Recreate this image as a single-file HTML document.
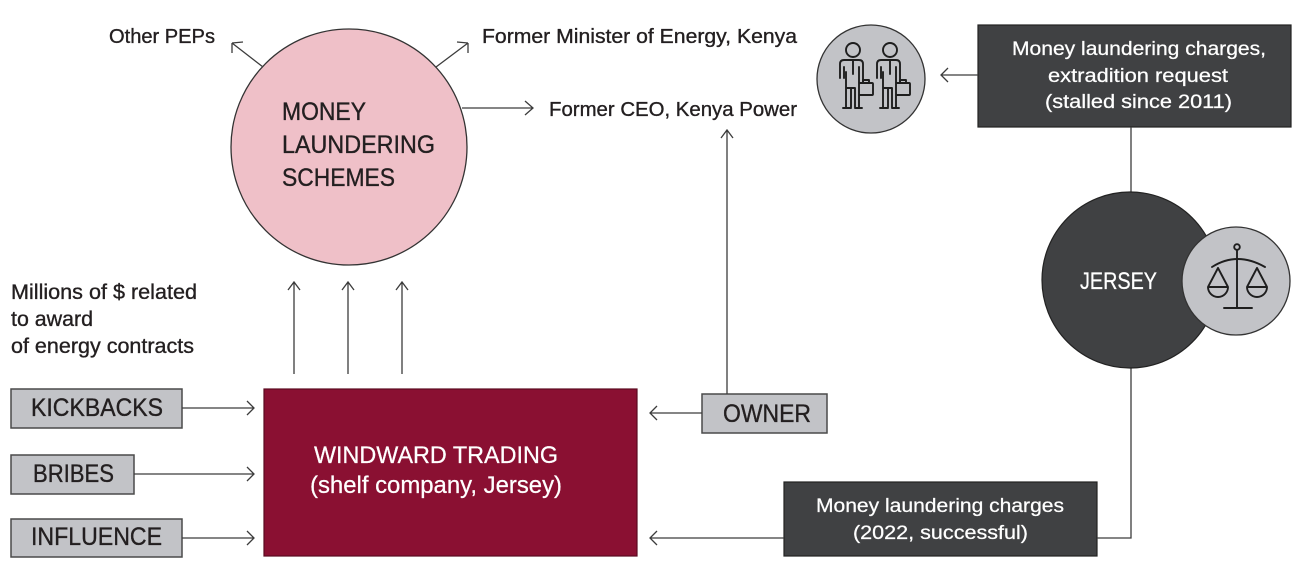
<!DOCTYPE html>
<html><head><meta charset="utf-8"><style>
html,body{margin:0;padding:0;background:#fff;}
svg{display:block;}
text{font-family:"Liberation Sans",Arial,sans-serif;}
.d{fill:#231f20;stroke:#231f20;stroke-width:0.35;}
.w{fill:#ffffff;stroke:#ffffff;stroke-width:0.25;}
.ln{stroke:#3c3c3c;stroke-width:1.3;fill:none;}
.ic{stroke:#1e1e1e;stroke-width:1.9;fill:none;stroke-linejoin:round;stroke-linecap:round;}
</style></head><body>
<svg width="1308" height="568" viewBox="0 0 1308 568" xmlns="http://www.w3.org/2000/svg">
<rect width="1308" height="568" fill="#fff"/>

<!-- Pink circle -->
<circle cx="349" cy="147" r="118" fill="#efc0c8" stroke="#333" stroke-width="1.3"/>
<text class="d" x="282" y="120" font-size="25" textLength="84" lengthAdjust="spacingAndGlyphs">MONEY</text>
<text class="d" x="282" y="153" font-size="25" textLength="153" lengthAdjust="spacingAndGlyphs">LAUNDERING</text>
<text class="d" x="282" y="186" font-size="25" textLength="113" lengthAdjust="spacingAndGlyphs">SCHEMES</text>

<!-- top labels -->
<text class="d" x="109" y="43" font-size="20" textLength="106" lengthAdjust="spacingAndGlyphs">Other PEPs</text>
<text class="d" x="482" y="43" font-size="20" textLength="315" lengthAdjust="spacingAndGlyphs">Former Minister of Energy, Kenya</text>
<text class="d" x="549" y="116" font-size="20" textLength="248" lengthAdjust="spacingAndGlyphs">Former CEO, Kenya Power</text>

<!-- diagonal arrows -->
<path class="ln" d="M263,67 L232,43 M232,43 L243,42 M232,43 L232,53"/>
<path class="ln" d="M436,67 L468,43 M468,43 L457,42 M468,43 L468,53"/>
<path class="ln" d="M462,108 L533,108 M525,101 L533,108 L525,115"/>

<!-- Millions text -->
<text class="d" x="11" y="299" font-size="21" textLength="186" lengthAdjust="spacingAndGlyphs">Millions of $ related</text>
<text class="d" x="11" y="326" font-size="21" textLength="82" lengthAdjust="spacingAndGlyphs">to award</text>
<text class="d" x="11" y="353" font-size="21" textLength="183" lengthAdjust="spacingAndGlyphs">of energy contracts</text>

<!-- up arrows -->
<path class="ln" d="M294,374 V282 M288,290 L294,282 L300,290"/>
<path class="ln" d="M348,374 V282 M342,290 L348,282 L354,290"/>
<path class="ln" d="M402,374 V282 M396,290 L402,282 L408,290"/>

<!-- left gray boxes -->
<rect x="11" y="389" width="171" height="39" fill="#c2c3c7" stroke="#4a4a4a" stroke-width="1.5"/>
<text class="d" x="31" y="416" font-size="25" textLength="132" lengthAdjust="spacingAndGlyphs">KICKBACKS</text>
<rect x="11" y="455" width="123" height="39" fill="#c2c3c7" stroke="#4a4a4a" stroke-width="1.5"/>
<text class="d" x="33" y="482" font-size="25" textLength="81" lengthAdjust="spacingAndGlyphs">BRIBES</text>
<rect x="11" y="519" width="171" height="38" fill="#c2c3c7" stroke="#4a4a4a" stroke-width="1.5"/>
<text class="d" x="31" y="545" font-size="25" textLength="131" lengthAdjust="spacingAndGlyphs">INFLUENCE</text>

<path class="ln" d="M182,408 H254 M247,401 L254,408 L247,415"/>
<path class="ln" d="M134,474 H254 M247,467 L254,474 L247,481"/>
<path class="ln" d="M182,538 H254 M247,531 L254,538 L247,545"/>

<!-- Windward -->
<rect x="264" y="389" width="373" height="167" fill="#8a1032" stroke="#5a0a20" stroke-width="1.2"/>
<text class="w" x="314" y="463" font-size="24" textLength="244" lengthAdjust="spacingAndGlyphs">WINDWARD TRADING</text>
<text class="w" x="310" y="493" font-size="24" textLength="252" lengthAdjust="spacingAndGlyphs">(shelf company, Jersey)</text>

<!-- OWNER -->
<rect x="702" y="394" width="125" height="39" fill="#c2c3c7" stroke="#4a4a4a" stroke-width="1.5"/>
<text class="d" x="723" y="422" font-size="25" textLength="88" lengthAdjust="spacingAndGlyphs">OWNER</text>
<path class="ln" d="M702,413 H650 M657,406 L650,413 L657,420"/>
<path class="ln" d="M727,394 V130 M721,138 L727,130 L733,138"/>

<!-- bottom dark box -->
<rect x="784" y="482" width="313" height="74" fill="#404143" stroke="#222" stroke-width="1.2"/>
<text class="w" x="816" y="512" font-size="19" textLength="248" lengthAdjust="spacingAndGlyphs">Money laundering charges</text>
<text class="w" x="853" y="539" font-size="19" textLength="175" lengthAdjust="spacingAndGlyphs">(2022, successful)</text>
<path class="ln" d="M784,538 H650 M657,531 L650,538 L657,545"/>
<path class="ln" d="M1097,538 H1131 V368"/>

<!-- top dark box -->
<rect x="978" y="25" width="313" height="102" fill="#404143" stroke="#222" stroke-width="1.2"/>
<text class="w" x="1012" y="55" font-size="19" textLength="254" lengthAdjust="spacingAndGlyphs">Money laundering charges,</text>
<text class="w" x="1048" y="82" font-size="19" textLength="180" lengthAdjust="spacingAndGlyphs">extradition request</text>
<text class="w" x="1045" y="108" font-size="19" textLength="187" lengthAdjust="spacingAndGlyphs">(stalled since 2011)</text>
<path class="ln" d="M978,75 H941 M948,68 L941,75 L948,82"/>
<path class="ln" d="M1131,127 V193"/>

<!-- people circle -->
<circle cx="871" cy="79" r="54" fill="#c2c3c7" stroke="#333" stroke-width="1.3"/>
<g class="ic">
  <circle cx="853" cy="50" r="7"/>
  <path d="M840,78 V64 Q840,60 844,60 H859 Q863,60 863,64 V83"/>
  <path d="M844,78 V67 M859,67 V83"/>
  <path d="M846,72 V107 M851,88 V107 M855,88 V107 M859,95 V107 M846,88 H855 M853,60 V74"/>
  <path d="M843,108 H851 M855,108 H862"/>
  <rect x="859" y="83" width="14" height="12" rx="1"/>
  <path d="M863,83 V80 H869 V83"/>
</g>
<g class="ic">
  <circle cx="890" cy="50" r="7"/>
  <path d="M877,78 V64 Q877,60 881,60 H896 Q900,60 900,64 V83"/>
  <path d="M881,78 V67 M896,67 V83"/>
  <path d="M883,72 V107 M888,88 V107 M892,88 V107 M896,95 V107 M883,88 H892 M890,60 V74"/>
  <path d="M880,108 H888 M892,108 H899"/>
  <rect x="896" y="83" width="14" height="12" rx="1"/>
  <path d="M900,83 V80 H906 V83"/>
</g>

<!-- Jersey circle -->
<circle cx="1130" cy="280" r="88" fill="#404143" stroke="#222" stroke-width="1.2"/>
<text class="w" x="1080" y="289" font-size="24" textLength="77" lengthAdjust="spacingAndGlyphs">JERSEY</text>

<!-- scale circle -->
<circle cx="1236" cy="281" r="54" fill="#c2c3c7" stroke="#333" stroke-width="1.3"/>
<g class="ic">
  <circle cx="1237" cy="247" r="2.8"/>
  <path d="M1237,250 V308 M1224,308 H1252"/>
  <path d="M1212,267 Q1237,251 1265,267"/>
  <path d="M1218,268 L1208,287 M1218,268 L1228,287 M1208,287 A10,10 0 0 0 1228,287 Z"/>
  <path d="M1257,268 L1247,287 M1257,268 L1267,287 M1247,287 A10,10 0 0 0 1267,287 Z"/>
</g>
</svg>
</body></html>
